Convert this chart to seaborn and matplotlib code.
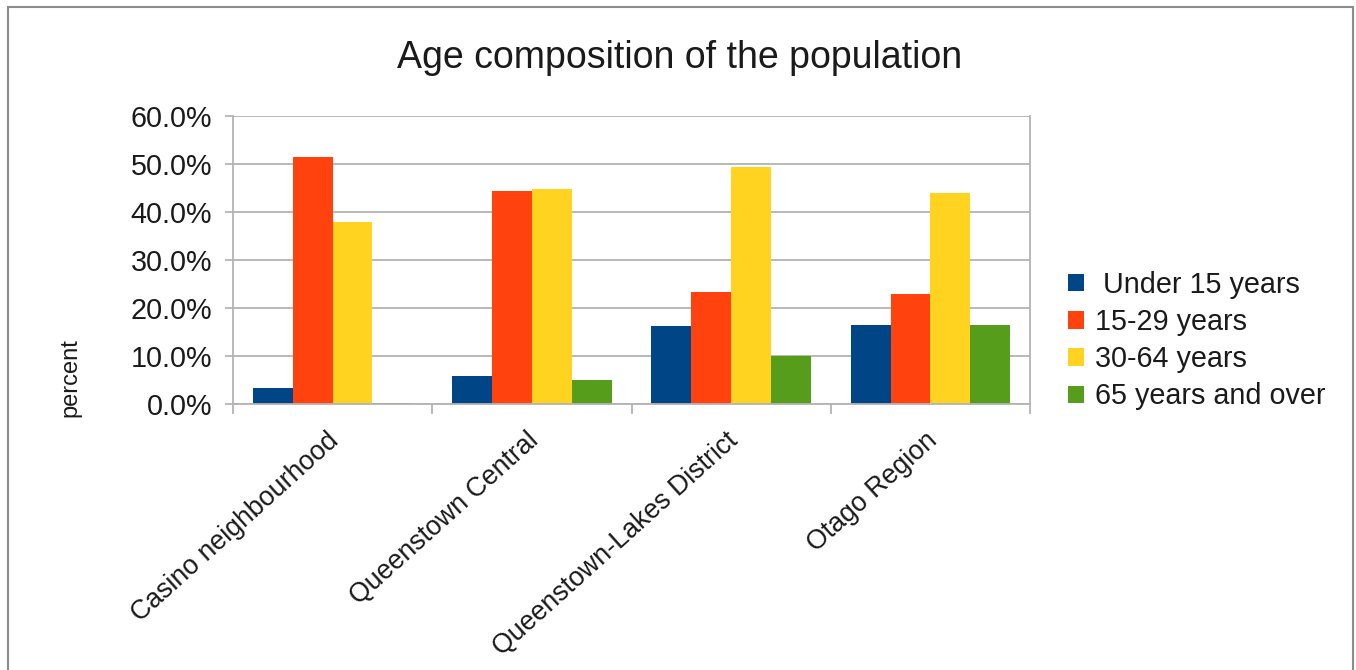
import matplotlib
matplotlib.use("Agg")
import matplotlib.pyplot as plt
import matplotlib.transforms as mtransforms
from matplotlib.patches import Rectangle
from matplotlib.ticker import FixedLocator, FuncFormatter
import seaborn as sns
import pandas as pd

regions = ["Casino neighbourhood", "Queenstown Central",
           "Queenstown-Lakes District", "Otago Region"]
age_groups = [" Under 15 years", "15-29 years", "30-64 years", "65 years and over"]
under_15 = [3.3, 5.8, 16.3, 16.4]
age_15_29 = [51.5, 44.4, 23.3, 22.9]
age_30_64 = [37.9, 44.8, 49.3, 44.0]
age_65_plus = [0.3, 4.9, 10.1, 16.4]
colors = ["#004586", "#ff420e", "#ffd320", "#579d1c"]

rows = []
for grp, vals in zip(age_groups, [under_15, age_15_29, age_30_64, age_65_plus]):
    for reg, v in zip(regions, vals):
        rows.append({"region": reg, "age": grp, "percent": v})
df = pd.DataFrame(rows)

sns.set_theme(style="white")
plt.rcParams["font.family"] = ["Liberation Sans", "DejaVu Sans"]

fig = plt.figure(figsize=(13.56, 6.70), dpi=100)
ax = fig.add_axes([233 / 1356, 1 - 404 / 670, (1030 - 233) / 1356, (404 - 116) / 670])

sns.barplot(data=df, x="region", y="percent", hue="age", palette=colors,
            order=regions, hue_order=age_groups, width=0.8, errorbar=None,
            saturation=1, linewidth=0, ax=ax)

grid_c = "#b3b3b3"
text_c = "#1a1a1a"
ax.set_ylim(0, 60)
ax.set_xlim(-0.5, 3.5)
ax.yaxis.set_major_locator(FixedLocator([0, 10, 20, 30, 40, 50, 60]))
ax.yaxis.set_major_formatter(FuncFormatter(lambda v, p: f"{v:.1f}%"))
ax.grid(axis="y", color=grid_c, linewidth=1.3)
ax.set_axisbelow(True)
for side in ["left", "bottom", "right"]:
    ax.spines[side].set_visible(True)
    ax.spines[side].set_color(grid_c)
    ax.spines[side].set_linewidth(1.3)
ax.spines["top"].set_visible(False)

ax.tick_params(axis="y", which="both", left=True, length=6, width=1.3,
               color=grid_c, labelsize=20.7, labelcolor=text_c, pad=9)
ax.set_xticks(range(len(regions)))
ax.set_xticklabels(regions, rotation=42, ha="right", va="center",
                   rotation_mode="anchor", fontsize=19.3, color=text_c)
ax.tick_params(axis="x", which="major", bottom=False, pad=18)
shift = mtransforms.ScaledTranslation(3 / 100, 0, fig.dpi_scale_trans)
for lbl in ax.get_xticklabels():
    lbl.set_transform(lbl.get_transform() + shift)
ax.set_xticks([-0.5, 0.5, 1.5, 2.5, 3.5], minor=True)
ax.tick_params(axis="x", which="minor", bottom=True, length=7, width=1.3, color=grid_c)
ax.set_xlabel("")
ax.set_ylabel("")

fig.text(70 / 1356, 1 - 378 / 670, "percent", rotation=90, ha="center", va="center",
         fontsize=17, color=text_c)
fig.text(680 / 1356, 1 - 58 / 670, "Age composition of the population",
         ha="center", va="center", fontsize=27, color=text_c)

ax.legend(loc="center left", bbox_to_anchor=(1.015, 0.22), frameon=False,
          fontsize=20.7, handlelength=0.55, handleheight=0.55, handletextpad=0.4,
          labelspacing=0.32, labelcolor=text_c)

fig.patches.append(Rectangle((8 / 1356, -0.1), (1353 - 8) / 1356, 1.1 - 7 / 670,
                             transform=fig.transFigure, fill=False,
                             edgecolor="#8c8c8c", linewidth=1.5))

fig.savefig("out.png", dpi=100)
